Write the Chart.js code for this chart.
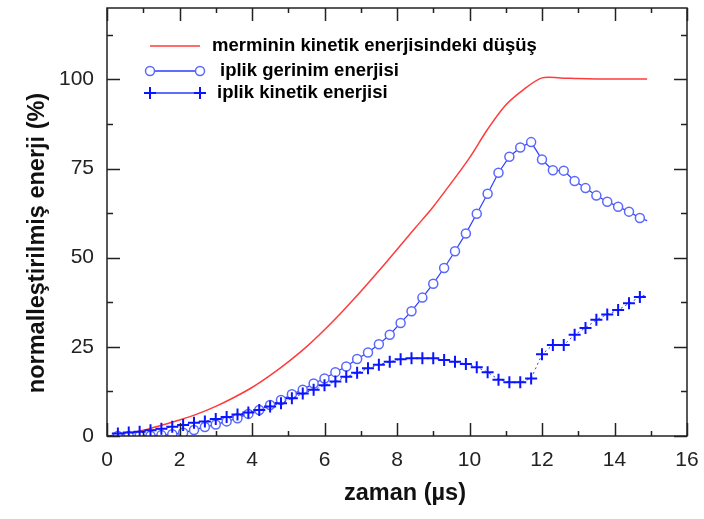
<!DOCTYPE html>
<html>
<head>
<meta charset="utf-8">
<script src="https://cdn.jsdelivr.net/npm/chart.js@4"></script>
<style>
  html, body { margin: 0; padding: 0; background: #fff; }
  canvas { display: block; }
</style>
</head>
<body>
<canvas id="graphique" width="704" height="519"></canvas>
<script>
// Données
const seriesNames = ["merminin kinetik enerjisindeki düşüş", "iplik gerinim enerjisi", "iplik kinetik enerjisi"]

const tRed = [0, 0.5, 1, 1.5, 2, 2.5, 3, 3.5, 4, 4.5, 5, 5.5, 6, 6.5, 7, 7.5, 8, 8.5, 9, 9.5, 10, 10.5, 11, 11.5, 12, 12.5, 13, 13.5, 14, 14.5, 14.9]
const redValues = [0, 0.6, 1.6, 3.0, 4.5, 6.2, 8.3, 10.8, 13.6, 17.0, 20.8, 25.0, 29.8, 35.0, 40.5, 46.3, 52.3, 58.3, 64.3, 71.0, 78.0, 86.0, 92.8, 97.2, 100.4, 100.4, 100.2, 100.1, 100.1, 100.1, 100.1]

const tBlue = [0.3, 0.6, 0.9, 1.2, 1.5, 1.8, 2.1, 2.4, 2.7, 3.0, 3.3, 3.6, 3.9, 4.2, 4.5, 4.8, 5.1, 5.4, 5.7, 6.0, 6.3, 6.6, 6.9, 7.2, 7.5, 7.8, 8.1, 8.4, 8.7, 9.0, 9.3, 9.6, 9.9, 10.2, 10.5, 10.8, 11.1, 11.4, 11.7, 12.0, 12.3, 12.6, 12.9, 13.2, 13.5, 13.8, 14.1, 14.4, 14.7, 14.9]
const strainValues = [0, 0, 0.05, 0.1, 0.25, 0.5, 0.9, 1.7, 2.5, 3.2, 4.1, 5.0, 6.2, 7.3, 8.7, 10.1, 11.7, 13.0, 14.7, 16.1, 17.9, 19.5, 21.6, 23.4, 25.7, 28.4, 31.7, 35.0, 38.8, 42.7, 47.1, 51.8, 56.8, 62.3, 67.9, 73.8, 78.3, 80.9, 82.4, 77.5, 74.5, 74.4, 71.5, 69.5, 67.4, 65.7, 64.3, 62.9, 61.1, 60.4]
const kineticValues = [0.7, 1.0, 1.2, 1.6, 2.0, 2.6, 3.1, 3.7, 4.1, 4.8, 5.3, 6.0, 6.6, 7.3, 8.3, 9.2, 10.6, 11.9, 13.0, 14.2, 15.3, 16.6, 17.7, 19.0, 20.0, 20.8, 21.5, 21.8, 21.8, 21.8, 21.3, 20.8, 20.2, 19.3, 17.9, 15.8, 15.1, 15.1, 16.1, 22.9, 25.5, 25.5, 28.4, 30.3, 32.6, 34.1, 35.3, 37.2, 39.0, 39.7]

const xTicks = [0, 2, 4, 6, 8, 10, 12, 14, 16]
const yTicks = [0, 25, 50, 75, 100]
const xTitle = "zaman (µs)"
const yTitle = "normalleştirilmiş enerji (%)"

const toPoints = (xs, ys) => xs.map((x, i) => ({ x: x, y: ys[i] }))
// pas de marqueur sur le dernier point (fin de la courbe)
const noLastPoint = r => ctx => ctx.dataIndex === ctx.dataset.data.length - 1 ? 0 : r

const RED = "#ff3b3b"
const BLUE_LINE = "#2a3cff"
const BLUE_CIRCLE = "#5a68ff"
const BLUE_CROSS = "#0a14ff"
const FONT = "'Liberation Sans', Arial, sans-serif"

// Cadre, graduations intérieures, légende et titres
const cadrePlugin = {
    id: "cadre",
    afterDraw(chart) {
        const { ctx, chartArea: a, scales } = chart
        const x = scales.x, y = scales.y
        ctx.save()
        ctx.strokeStyle = "#222"
        ctx.lineWidth = 1.5
        ctx.strokeRect(a.left, a.top, a.right - a.left, a.bottom - a.top)

        ctx.beginPath()
        for (let v = 0; v <= 16; v++) {
            const px = Math.round(x.getPixelForValue(v)) + 0.5
            const len = v % 2 === 0 ? 13 : 5
            ctx.moveTo(px, a.bottom); ctx.lineTo(px, a.bottom - len)
            ctx.moveTo(px, a.top); ctx.lineTo(px, a.top + len)
        }
        for (let v = 0; v <= 112.5; v += 12.5) {
            const py = Math.round(y.getPixelForValue(v)) + 0.5
            const len = v % 25 === 0 ? 13 : 6
            ctx.moveTo(a.left, py); ctx.lineTo(a.left + len, py)
            ctx.moveTo(a.right, py); ctx.lineTo(a.right - len, py)
        }
        ctx.stroke()

        // légende
        const rows = [46, 71, 93]
        const textX = [212, 220, 217]
        const x0 = 150, x1 = 200
        ctx.font = "bold 18.5px " + FONT
        ctx.textBaseline = "middle"
        rows.forEach((ry, i) => {
            ctx.beginPath()
            ctx.lineWidth = 1.5
            ctx.strokeStyle = i === 0 ? RED : BLUE_LINE
            ctx.moveTo(x0, ry); ctx.lineTo(x1, ry)
            ctx.stroke()
            if (i === 1) {
                ctx.strokeStyle = BLUE_CIRCLE
                ctx.fillStyle = "#fff"
                for (const cx of [x0, x1]) {
                    ctx.beginPath(); ctx.arc(cx, ry, 4.5, 0, Math.PI * 2); ctx.fill(); ctx.stroke()
                }
            }
            if (i === 2) {
                ctx.strokeStyle = BLUE_CROSS
                ctx.lineWidth = 2
                ctx.beginPath()
                for (const cx of [x0, x1]) {
                    ctx.moveTo(cx - 6, ry); ctx.lineTo(cx + 6, ry)
                    ctx.moveTo(cx, ry - 6); ctx.lineTo(cx, ry + 6)
                }
                ctx.stroke()
            }
            ctx.fillStyle = "#000"
            ctx.fillText(seriesNames[i], textX[i], ry)
        })

        // titres des axes
        ctx.font = "bold 23.5px " + FONT
        ctx.fillStyle = "#111"
        ctx.textAlign = "center"
        ctx.textBaseline = "alphabetic"
        ctx.fillText(xTitle, 405, 500)
        ctx.translate(44, 243)
        ctx.rotate(-Math.PI / 2)
        ctx.fillText(yTitle, 0, 0)
        ctx.restore()
    }
}

const data = {
    datasets: [
        {
            label: seriesNames[0],
            data: toPoints(tRed, redValues),
            borderColor: RED,
            borderWidth: 1.5,
            pointRadius: 0,
            tension: 0.3,
            order: 3
        },
        {
            label: seriesNames[1],
            data: toPoints(tBlue, strainValues),
            borderColor: BLUE_LINE,
            borderWidth: 1.2,
            pointStyle: "circle",
            pointRadius: noLastPoint(4.5),
            pointBorderColor: BLUE_CIRCLE,
            pointBackgroundColor: "#fff",
            pointBorderWidth: 1.5,
            order: 2
        },
        {
            label: seriesNames[2],
            data: toPoints(tBlue, kineticValues),
            borderColor: BLUE_LINE,
            borderWidth: 1,
            borderDash: [2, 3],
            pointStyle: "cross",
            pointRadius: noLastPoint(6),
            pointBorderColor: BLUE_CROSS,
            pointBorderWidth: 2,
            order: 1
        }
    ]
}

const config = {
    type: "line",
    data: data,
    options: {
        responsive: false,
        animation: false,
        devicePixelRatio: 1,
        layout: { padding: { left: 0, right: 17, top: 4, bottom: 0 } },
        plugins: {
            legend: { display: false },
            tooltip: { enabled: false }
        },
        scales: {
            x: {
                type: "linear",
                min: 0,
                max: 16,
                afterBuildTicks: s => { s.ticks = xTicks.map(v => ({ value: v })) },
                afterFit: s => { s.height = 83; s.paddingLeft = 0; s.paddingRight = 0 },
                grid: { display: false, drawTicks: false },
                border: { display: false },
                ticks: { font: { family: FONT, size: 21 }, color: "#222", padding: 12, maxRotation: 0 }
            },
            y: {
                type: "linear",
                min: 0,
                max: 120,
                afterBuildTicks: s => { s.ticks = yTicks.map(v => ({ value: v })) },
                afterFit: s => { s.width = 107; s.paddingTop = 0; s.paddingBottom = 0 },
                grid: { display: false, drawTicks: false },
                border: { display: false },
                ticks: { font: { family: FONT, size: 21 }, color: "#222", padding: 13 }
            }
        }
    },
    plugins: [cadrePlugin]
}

new Chart(document.querySelector("#graphique"), config)
</script>
</body>
</html>
